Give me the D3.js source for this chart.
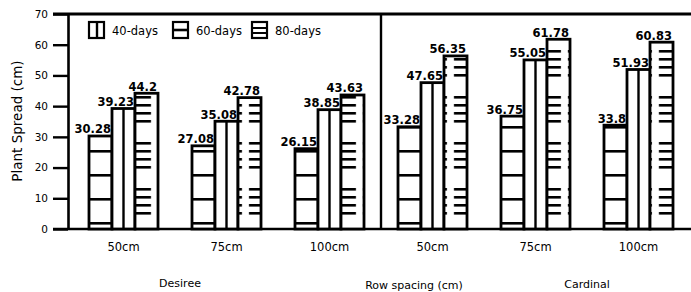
<!DOCTYPE html>
<html>
<head>
<meta charset="utf-8">
<script src="https://cdn.jsdelivr.net/npm/d3@7"></script>
<style>
  body { margin: 0; background: #fff; }
  svg { display: block; font-family: "DejaVu Sans", sans-serif; }
</style>
</head>
<body>
<div id="chart"></div>
<script>
// values
var varieties = ["Desiree", "Cardinal"];
var spacings = ["50cm", "75cm", "100cm"];
var series = ["40-days", "60-days", "80-days"];
var desiree = [[30.28, 39.23, 44.2], [27.08, 35.08, 42.78], [26.15, 38.85, 43.63]];
var cardinal = [[33.28, 47.65, 56.35], [36.75, 55.05, 61.78], [33.8, 51.93, 60.83]];
var yTicks = [0, 10, 20, 30, 40, 50, 60, 70];

var width = 691, height = 292;

var rows = [];
[desiree, cardinal].forEach(function (v, vi) {
  v.forEach(function (vals, si) {
    rows.push({ key: vi * 3 + si, label: spacings[si], values: vals });
  });
});

var svg = d3.select("#chart").append("svg")
  .attr("width", width)
  .attr("height", height);

var y = d3.scaleLinear().domain([0, 70]).range([229, 14]);
var x0 = d3.scaleBand().domain(rows.map(function (d) { return d.key; }))
  .range([72, 690]).paddingInner(0.33).paddingOuter(0.165);
var x1 = d3.scaleBand().domain(series).range([0, x0.bandwidth()]);

var defs = svg.append("defs");

// 40-days: wide horizontal lines
var p40 = defs.append("pattern").attr("id", "p40")
  .attr("patternUnits", "userSpaceOnUse")
  .attr("width", 10).attr("height", 24).attr("y", 6);
p40.append("rect").attr("width", 10).attr("height", 24).attr("fill", "#fff");
p40.append("rect").attr("y", 0).attr("width", 10).attr("height", 2.6).attr("fill", "#000");

// y axis
var yAxis = svg.append("g")
  .attr("transform", "translate(68,0)")
  .call(d3.axisLeft(y).tickValues(yTicks).tickSize(15).tickSizeOuter(0).tickPadding(5));
yAxis.select(".domain").attr("stroke", "#000").attr("stroke-width", 2.6);
yAxis.selectAll(".tick line").attr("stroke", "#000").attr("stroke-width", 2.4);
yAxis.selectAll(".tick text").attr("font-size", 10.5).attr("fill", "#000")
  .attr("font-family", "DejaVu Sans");

// frame lines
svg.append("line").attr("x1", 53).attr("x2", width).attr("y1", y(70)).attr("y2", y(70))
  .attr("stroke", "#000").attr("stroke-width", 2.8);
svg.append("line").attr("x1", 53).attr("x2", width).attr("y1", y(0)).attr("y2", y(0))
  .attr("stroke", "#000").attr("stroke-width", 2.6);
var divX = (x0(2) + x0.bandwidth() + x0(3)) / 2;
svg.append("line").attr("x1", divX).attr("x2", divX).attr("y1", y(70)).attr("y2", y(0))
  .attr("stroke", "#000").attr("stroke-width", 2.4);

// bars
var grp = svg.selectAll("g.grp").data(rows).enter().append("g")
  .attr("class", "grp")
  .attr("transform", function (d) { return "translate(" + x0(d.key) + ",0)"; });

var bars = grp.selectAll("g.bar")
  .data(function (d) {
    return d.values.map(function (v, i) { return { key: d.key, s: series[i], v: v }; });
  })
  .enter().append("g").attr("class", "bar");

// per-bar dash pattern for 80-days
defs.selectAll("pattern.p80").data(rows).enter().append("pattern")
  .attr("class", "p80")
  .attr("id", function (d) { return "p80_" + d.key; })
  .attr("patternUnits", "userSpaceOnUse")
  .attr("x", function (d) { return x0(d.key) + x1("80-days"); })
  .attr("y", 4)
  .attr("width", x1.bandwidth()).attr("height", 46)
  .each(function () {
    var p = d3.select(this);
    p.append("rect").attr("width", x1.bandwidth()).attr("height", 46).attr("fill", "#fff");
    [0, 8, 16, 24].forEach(function (o) {
      p.append("rect").attr("x", 3).attr("y", o).attr("width", x1.bandwidth() - 7)
        .attr("height", 2.6).attr("fill", "#000");
    });
  });

bars.append("rect")
  .attr("x", function (d) { return x1(d.s); })
  .attr("y", function (d) { return y(d.v); })
  .attr("width", x1.bandwidth())
  .attr("height", function (d) { return y(0) - y(d.v); })
  .attr("fill", function (d) {
    if (d.s === "40-days") return "url(#p40)";
    if (d.s === "80-days") return "url(#p80_" + d.key + ")";
    return "#fff";
  })
  .attr("stroke", "#000").attr("stroke-width", 2.8);

bars.filter(function (d) { return d.s === "60-days"; }).append("line")
  .attr("x1", function (d) { return x1(d.s) + x1.bandwidth() / 2; })
  .attr("x2", function (d) { return x1(d.s) + x1.bandwidth() / 2; })
  .attr("y1", function (d) { return y(d.v); })
  .attr("y2", y(0))
  .attr("stroke", "#000").attr("stroke-width", 2.4);

// value labels
bars.append("text")
  .attr("x", function (d) { return x1(d.s) + x1.bandwidth() - 1; })
  .attr("y", function (d) { return y(d.v) - 2.5; })
  .attr("text-anchor", "end")
  .attr("font-size", 11.5).attr("font-weight", "bold")
  .text(function (d) { return d.v; });

// x tick labels
var xAxis = svg.append("g")
  .attr("transform", "translate(0," + y(0) + ")")
  .call(d3.axisBottom(x0).tickSize(0).tickPadding(14)
    .tickFormat(function (k) { return rows[k].label; }));
xAxis.select(".domain").remove();
xAxis.selectAll(".tick text").attr("font-size", 11.5).attr("fill", "#000")
  .attr("font-family", "DejaVu Sans");

// bottom titles
svg.append("text").attr("x", 180).attr("y", 287).attr("text-anchor", "middle")
  .attr("font-size", 11).text(varieties[0]);
svg.append("text").attr("x", 587).attr("y", 288).attr("text-anchor", "middle")
  .attr("font-size", 11).text(varieties[1]);
svg.append("text").attr("x", 414).attr("y", 289).attr("text-anchor", "middle")
  .attr("font-size", 11).text("Row spacing (cm)");

// y title
svg.append("text")
  .attr("transform", "translate(22," + 121 + ") rotate(-90)")
  .attr("text-anchor", "middle")
  .attr("font-size", 13.5)
  .text("Plant Spread (cm)");

// legend
var legX = [89, 173, 252];
var leg = svg.selectAll("g.leg").data(series).enter().append("g")
  .attr("class", "leg")
  .attr("transform", function (d, i) { return "translate(" + legX[i] + ",22)"; });
leg.append("rect").attr("width", 15).attr("height", 16)
  .attr("fill", "#fff").attr("stroke", "#000").attr("stroke-width", 2.2);
leg.filter(function (d, i) { return i === 0; }).append("line")
  .attr("x1", 8).attr("x2", 8).attr("y1", 0).attr("y2", 16)
  .attr("stroke", "#000").attr("stroke-width", 2.4);
leg.filter(function (d, i) { return i === 1; }).append("line")
  .attr("x1", 0).attr("x2", 15).attr("y1", 8).attr("y2", 8)
  .attr("stroke", "#000").attr("stroke-width", 2.6);
leg.filter(function (d, i) { return i === 2; }).selectAll("line.h").data([6, 11]).enter()
  .append("line").attr("x1", 0).attr("x2", 15)
  .attr("y1", function (d) { return d; }).attr("y2", function (d) { return d; })
  .attr("stroke", "#000").attr("stroke-width", 2);
leg.append("text").attr("x", 23).attr("y", 12.5)
  .attr("font-size", 11.5).text(function (d) { return d; });
</script>
</body>
</html>
